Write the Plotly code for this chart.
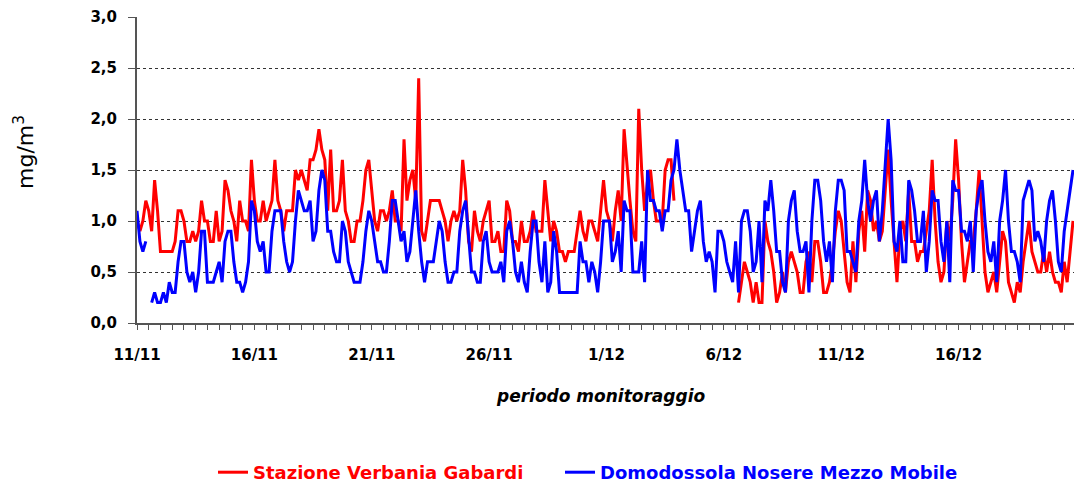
import pandas as pd
import plotly.graph_objects as go

# 3-hourly concentrations (mg/m3), one row = one day (00,03,...,21h), from 11/11
start = "2010-11-11 00:00"
n_points = 320
step = "3h"

verbania = [
    1.0, 0.9, 1.0, 1.2, 1.1, 0.9, 1.4, 1.1,
    0.7, 0.7, 0.7, 0.7, 0.7, 0.8, 1.1, 1.1,
    1.0, 0.8, 0.8, 0.9, 0.8, 0.9, 1.2, 1.0,
    1.0, 0.8, 0.8, 1.1, 0.8, 0.9, 1.4, 1.3,
    1.1, 1.0, 0.8, 1.2, 1.0, 1.0, 0.9, 1.6,
    1.2, 1.0, 1.0, 1.2, 1.0, 1.1, 1.2, 1.6,
    1.2, 1.1, 0.9, 1.1, 1.1, 1.1, 1.5, 1.4,
    1.5, 1.4, 1.3, 1.6, 1.6, 1.7, 1.9, 1.7,
    1.6, 1.1, 1.7, 1.1, 1.1, 1.2, 1.6, 1.1,
    1.0, 0.8, 0.8, 1.0, 1.0, 1.2, 1.5, 1.6,
    1.3, 1.0, 0.9, 1.1, 1.1, 1.0, 1.1, 1.3,
    1.0, 1.0, 0.9, 1.8, 1.2, 1.4, 1.5, 1.2,
    2.4, 0.9, 0.8, 1.0, 1.2, 1.2, 1.2, 1.2,
    1.1, 1.0, 0.8, 1.0, 1.1, 1.0, 1.1, 1.6,
    1.3, 0.8, 0.7, 1.1, 0.9, 0.8, 1.0, 1.1,
    1.2, 0.8, 0.8, 0.9, 0.7, 0.7, 1.2, 1.1,
    0.8, 0.8, 0.7, 1.0, 0.8, 0.8, 0.9, 1.1,
    0.9, 0.9, 0.9, 1.4, 1.1, 0.8, 1.0, 0.9,
    0.7, 0.7, 0.6, 0.7, 0.7, 0.7, 0.9, 1.1,
    0.9, 0.8, 1.0, 1.0, 0.9, 0.8, 1.1, 1.4,
    1.1, 1.0, 0.8, 1.1, 1.3, 1.0, 1.9, 1.5,
    1.2, 0.9, 0.8, 2.1, 1.5, 1.1, 1.4, 1.5,
    1.2, 1.0, 1.0, 1.0, 1.5, 1.6, 1.6, 1.2,
    None, None, None, None, None, None, None, None,
    None, None, None, None, None, None, None, None,
    None, None, None, None, None, 0.2, 0.4, 0.6,
    0.5, 0.4, 0.2, 0.4, 0.2, 0.2, 1.0, 0.8,
    0.7, 0.5, 0.2, 0.3, 0.5, 0.3, 0.6, 0.7,
    0.6, 0.5, 0.3, 0.3, 0.6, 0.7, 0.4, 0.8,
    0.8, 0.6, 0.3, 0.3, 0.4, 0.6, 0.9, 1.1,
    1.0, 0.7, 0.4, 0.3, 0.8, 0.4, 0.9, 1.1,
    0.7, 1.3, 1.2, 0.9, 1.0, 0.8, 0.9, 1.3,
    1.7, 1.2, 0.8, 0.4, 0.9, 1.0, 0.8, 1.3,
    0.8, 0.8, 0.6, 0.7, 0.7, 0.9, 1.1, 1.6,
    1.0, 0.6, 0.4, 0.5, 1.0, 0.8, 1.2, 1.8,
    1.4, 0.8, 0.4, 0.6, 0.8, 0.8, 1.1, 1.5,
    1.0, 0.5, 0.3, 0.4, 0.5, 0.3, 0.6, 0.9,
    0.8, 0.4, 0.3, 0.2, 0.4, 0.3, 0.6, 0.8,
    1.0, 0.7, 0.6, 0.5, 0.5, 0.7, 0.5, 0.7,
    0.5, 0.4, 0.4, 0.3, 0.6, 0.4, 0.7, 1.0,
]

domodossola = [
    1.1, 0.8, 0.7, 0.8, None, 0.2, 0.3, 0.2,
    0.2, 0.3, 0.2, 0.4, 0.3, 0.3, 0.6, 0.8,
    0.8, 0.5, 0.4, 0.5, 0.3, 0.5, 0.9, 0.9,
    0.4, 0.4, 0.4, 0.5, 0.6, 0.4, 0.8, 0.9,
    0.9, 0.6, 0.4, 0.4, 0.3, 0.4, 0.6, 1.2,
    1.1, 0.8, 0.7, 0.8, 0.5, 0.5, 0.9, 1.1,
    1.1, 1.1, 0.8, 0.6, 0.5, 0.6, 1.0, 1.3,
    1.2, 1.1, 1.1, 1.2, 0.8, 0.9, 1.3, 1.5,
    1.4, 0.9, 0.9, 0.7, 0.6, 0.6, 1.0, 0.9,
    0.6, 0.5, 0.4, 0.4, 0.4, 0.6, 0.9, 1.1,
    1.0, 0.8, 0.6, 0.6, 0.5, 0.5, 0.8, 1.2,
    1.2, 1.0, 0.8, 0.9, 0.6, 0.7, 1.0, 1.3,
    0.9, 0.6, 0.4, 0.6, 0.6, 0.6, 0.8, 1.0,
    0.9, 0.6, 0.4, 0.4, 0.5, 0.5, 0.9, 1.1,
    1.2, 0.8, 0.5, 0.5, 0.4, 0.4, 0.8, 0.9,
    0.6, 0.5, 0.5, 0.5, 0.6, 0.4, 0.9, 1.0,
    0.8, 0.5, 0.4, 0.6, 0.4, 0.3, 0.7, 1.0,
    1.0, 0.6, 0.4, 0.8, 0.3, 0.4, 0.9, 0.7,
    0.3, 0.3, 0.3, 0.3, 0.3, 0.3, 0.3, 0.8,
    0.6, 0.6, 0.4, 0.6, 0.5, 0.3, 0.6, 1.0,
    1.0, 1.0, 0.6, 0.7, 0.9, 0.5, 1.2, 1.1,
    1.1, 0.5, 0.5, 0.5, 0.8, 0.4, 1.5, 1.2,
    1.2, 1.1, 1.1, 0.9, 1.1, 1.1, 1.4, 1.5,
    1.8, 1.5, 1.3, 1.1, 1.1, 0.7, 0.9, 1.1,
    1.2, 0.8, 0.6, 0.7, 0.6, 0.3, 0.9, 0.9,
    0.8, 0.6, 0.5, 0.4, 0.8, 0.3, 1.0, 1.1,
    1.1, 0.9, 0.5, 0.6, 1.0, 0.4, 1.2, 1.1,
    1.4, 1.1, 0.7, 0.7, 0.4, 0.3, 1.0, 1.2,
    1.3, 0.9, 0.7, 0.7, 0.8, 0.3, 1.0, 1.4,
    1.4, 1.2, 0.8, 0.6, 0.8, 0.4, 1.1, 1.4,
    1.4, 1.3, 0.7, 0.7, 0.6, 0.5, 1.0, 1.2,
    1.6, 1.2, 1.0, 1.2, 1.3, 0.8, 1.1, 1.5,
    2.0, 1.6, 0.8, 0.7, 1.0, 0.6, 0.6, 1.4,
    1.3, 1.1, 0.8, 0.8, 1.1, 0.5, 0.8, 1.3,
    1.2, 1.2, 0.8, 0.6, 1.0, 0.4, 1.4, 1.3,
    1.3, 0.9, 0.9, 0.8, 1.0, 0.5, 1.1, 1.3,
    1.4, 1.0, 0.7, 0.6, 0.8, 0.4, 1.0, 1.2,
    1.5, 1.0, 0.7, 0.7, 0.6, 0.4, 1.2, 1.3,
    1.4, 1.3, 0.8, 0.9, 0.8, 0.6, 1.0, 1.2,
    1.3, 1.0, 0.6, 0.5, 0.9, 1.1, 1.3, 1.5,
]

x_tick_dates = ["2010-11-11", "2010-11-16", "2010-11-21", "2010-11-26",
                "2010-12-01", "2010-12-06", "2010-12-11", "2010-12-16"]
x_tick_labels = ["11/11", "16/11", "21/11", "26/11", "1/12", "6/12", "11/12", "16/12"]
y_tick_values = [0, 0.5, 1.0, 1.5, 2.0, 2.5, 3.0]
y_tick_labels = ["0,0", "0,5", "1,0", "1,5", "2,0", "2,5", "3,0"]

series_names = ["Stazione Verbania Gabardi", "Domodossola Nosere Mezzo Mobile"]
series_colors = ["#FF0000", "#0000FF"]
legend_ids = ["legend", "legend2"]

times = pd.date_range(start, periods=n_points, freq=step)
x_end = pd.Timestamp(start) + pd.Timedelta(hours=958)

FONT = "DejaVu Sans"

fig = go.Figure()
for vals, name, col, lg in zip([verbania, domodossola], series_names, series_colors, legend_ids):
    fig.add_trace(go.Scatter(
        x=times, y=vals, mode="lines", connectgaps=False,
        name=f'<span style="color:{col}">{name}</span>',
        line=dict(color=col, width=3), legend=lg,
    ))

legend_style = dict(
    orientation="h", xanchor="left", yanchor="bottom",
    xref="container", yref="container", y=-0.01,
    font=dict(family=FONT, size=18, weight="bold"),
    bgcolor="rgba(0,0,0,0)",
)

fig.update_layout(
    width=1074, height=491,
    margin=dict(l=137, r=0, t=17, b=168),
    paper_bgcolor="white", plot_bgcolor="white",
    font=dict(family=FONT, color="black"),
    showlegend=True,
    legend=dict(x=213 / 1074, **legend_style),
    legend2=dict(x=560 / 1074, **legend_style),
    xaxis=dict(
        type="date",
        range=[pd.Timestamp(start), x_end],
        tickvals=x_tick_dates, ticktext=x_tick_labels,
        tickfont=dict(family=FONT, size=15, weight="bold", color="black"),
        ticks="outside", ticklen=5, tickcolor="#555555", tickwidth=1,
        ticklabelstandoff=12,
        minor=dict(dtick=12 * 3600 * 1000, ticks="outside", ticklen=5,
                   tickcolor="#555555", tickwidth=1, showgrid=False),
        showgrid=False, zeroline=False,
        showline=True, linecolor="#555555", linewidth=2,
    ),
    yaxis=dict(
        range=[0, 3.0],
        tickvals=y_tick_values, ticktext=y_tick_labels,
        tickfont=dict(family=FONT, size=15, weight="bold", color="black"),
        ticks="outside", ticklen=7, tickcolor="#555555", tickwidth=1,
        ticklabelstandoff=8,
        showgrid=True, gridcolor="#333333", griddash="dot", gridwidth=1,
        zeroline=False,
        showline=True, linecolor="#555555", linewidth=2,
    ),
    annotations=[
        dict(text="mg/m<sup>3</sup>", xref="paper", yref="paper",
             x=-0.1206, y=0.559, xanchor="center", yanchor="middle",
             showarrow=False, textangle=-90,
             font=dict(family=FONT, size=22, color="black")),
        dict(text="<b><i>periodo monitoraggio</i></b>", xref="paper", yref="paper",
             x=0.4952, y=-0.2386, xanchor="center", yanchor="middle",
             showarrow=False,
             font=dict(family=FONT, size=17, color="black")),
    ],
)

fig.write_html("out.html", config={"displayModeBar": False},
               post_script="document.body.style.margin='0';")
